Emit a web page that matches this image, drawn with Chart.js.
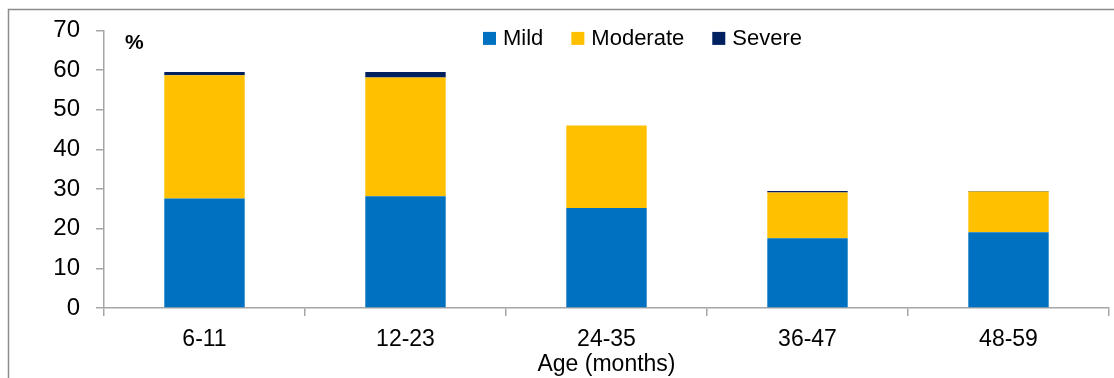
<!DOCTYPE html>
<html>
<head>
<meta charset="utf-8">
<script src="https://cdn.jsdelivr.net/npm/chart.js@4/dist/chart.umd.min.js"></script>
<style>
  html, body { margin: 0; padding: 0; background: #ffffff; }
  #wrap { width: 1114px; height: 378px; position: relative; }
</style>
</head>
<body>
<div id="wrap"><canvas id="chart" width="1114" height="378"></canvas></div>
<script>
// Prevalence of anaemia by age group, split by severity (%)
const ageGroups = ['6-11', '12-23', '24-35', '36-47', '48-59'];
const mild      = [27.6, 28.2, 25.2, 17.6, 19.1];
const moderate  = [31.1, 29.9, 20.8, 11.5, 10.3];
const severe    = [0.8, 1.4, 0.0, 0.4, 0.1];
const seriesNames  = ['Mild', 'Moderate', 'Severe'];
const seriesColors = ['#0070C0', '#FFC000', '#002060'];
const yTicks = [0, 10, 20, 30, 40, 50, 60, 70];
const xTitle = 'Age (months)';
const unitLabel = '%';

const FONT = "'Liberation Sans', Arial, Helvetica, sans-serif";
const AXIS_GRAY = '#a6a6a6';

// Outer frame around the whole figure
const framePlugin = {
  id: 'frame',
  beforeDraw(chart) {
    const ctx = chart.ctx;
    ctx.save();
    ctx.fillStyle = '#ffffff';
    ctx.fillRect(0, 0, chart.width, chart.height);
    ctx.strokeStyle = '#8c8c8c';
    ctx.lineWidth = 1.5;
    ctx.beginPath();
    ctx.moveTo(8.5, chart.height + 2);
    ctx.lineTo(8.5, 9.5);
    ctx.lineTo(chart.width + 2, 9.5);
    ctx.stroke();
    ctx.restore();
  }
};

// Legend row and unit label drawn inside the plot area
const legendPlugin = {
  id: 'inlineLegend',
  afterDraw(chart) {
    const ctx = chart.ctx;
    const area = chart.chartArea;
    ctx.save();
    ctx.font = 'bold 21px ' + FONT;
    ctx.fillStyle = '#000000';
    ctx.textBaseline = 'middle';
    ctx.textAlign = 'left';
    ctx.fillText(unitLabel, area.left + 21, area.top + 13);

    ctx.font = '22px ' + FONT;
    let x = area.left + 379;
    const yMid = area.top + 8;
    const box = 13;
    chart.data.datasets.forEach(ds => {
      ctx.fillStyle = ds.backgroundColor;
      ctx.fillRect(x, yMid - box / 2, box, box);
      x += box + 7;
      ctx.fillStyle = '#000000';
      ctx.fillText(ds.label, x, yMid + 1);
      x += ctx.measureText(ds.label).width + 28;
    });
    ctx.restore();
  }
};

const datasets = [mild, moderate, severe].map((vals, i) => ({
  label: seriesNames[i],
  data: vals,
  backgroundColor: seriesColors[i],
  borderWidth: 0,
  categoryPercentage: 1.0,
  barPercentage: 0.4
}));

new Chart(document.getElementById('chart'), {
  type: 'bar',
  data: { labels: ageGroups, datasets },
  plugins: [framePlugin, legendPlugin],
  options: {
    responsive: false,
    animation: false,
    layout: { padding: { top: 28, right: 5, left: 0, bottom: 0 } },
    plugins: {
      legend: { display: false },
      tooltip: { enabled: false }
    },
    scales: {
      x: {
        stacked: true,
        grid: {
          offset: true,
          drawOnChartArea: false,
          drawTicks: true,
          tickLength: 8,
          color: AXIS_GRAY,
          lineWidth: 1.5
        },
        border: { color: AXIS_GRAY, width: 1.5 },
        ticks: {
          color: '#000000',
          font: { family: FONT, size: 23 },
          padding: 10,
          maxRotation: 0
        },
        title: {
          display: true,
          text: xTitle,
          color: '#000000',
          font: { family: FONT, size: 23 },
          padding: { top: 0, bottom: 0 }
        },
        afterFit(scale) { scale.height = 70; }
      },
      y: {
        stacked: true,
        min: 0,
        max: 70,
        afterBuildTicks(scale) { scale.ticks = yTicks.map(v => ({ value: v })); },
        grid: {
          drawOnChartArea: false,
          drawTicks: true,
          tickLength: 8,
          color: AXIS_GRAY,
          lineWidth: 1.5
        },
        border: { color: AXIS_GRAY, width: 1.5 },
        ticks: {
          color: '#000000',
          font: { family: FONT, size: 24 },
          padding: 16
        },
        afterFit(scale) { scale.width = 104; }
      }
    }
  }
});
</script>
</body>
</html>
